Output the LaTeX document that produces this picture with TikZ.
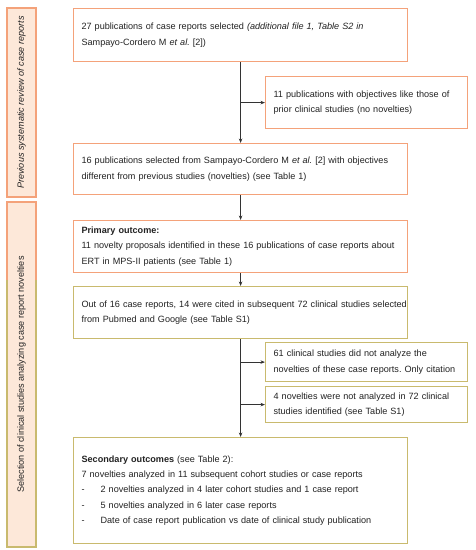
\documentclass[tikz,border=0pt]{standalone}
\usepackage{fontspec}
\setmainfont{Liberation Sans}
\usetikzlibrary{arrows.meta}
\definecolor{orB}{HTML}{F4A27A}
\definecolor{olB}{HTML}{C9BA6E}
\definecolor{peach}{HTML}{FDE8D9}
\definecolor{txt}{HTML}{222222}
\definecolor{arr}{HTML}{333333}
\frenchspacing
\begin{document}
\begin{tikzpicture}[x=1pt,y=-1pt,
  font=\fontsize{9.1}{15.2}\selectfont,
  base/.style={anchor=north west, inner xsep=8pt, inner ysep=0pt, line width=1.2pt, fill=white, text=txt, align=left},
  ob/.style={base, draw=orB},
  gb/.style={base, draw=olB},
  side/.style={anchor=center, rotate=90, inner sep=0pt, line width=1.2pt, fill=peach, text=txt, minimum height=29pt},
  arrowline/.style={draw=arr, line width=0.8pt, -{Stealth[length=4.5pt,width=3.5pt]}}]
\useasboundingbox (0,0) rectangle (476,550);
\fill[white] (0,0) rectangle (476,550);

% side boxes
\node[side, draw=orB, minimum width=189pt] (sA) at (21.5,102.5) {\itshape Previous systematic review of case reports};
\node[side, draw=orB, minimum width=345pt] (sB) at (21.5,374.5) {Selection of clinical studies analyzing case report novelties};
\draw[olB, line width=1.2pt] (7,280) -- (7,547) -- (36,547) -- (36,280);

% main boxes
\node[ob, text width=318pt, minimum height=53pt] (b1) at (73,8)
  {\makebox[318pt][s]{27 publications of case reports selected \textit{(additional file 1, Table S2 in}}\\
   Sampayo-Cordero M \textit{et al.} [2])};
\node[ob, text width=186pt, minimum height=52pt] (b2) at (265,76)
  {\makebox[186pt][s]{11 publications with objectives like those of}\\
   prior clinical studies (no novelties)};
\node[ob, text width=318pt, minimum height=51pt] (b3) at (73,143)
  {16 publications selected from Sampayo-Cordero M \textit{et al.} [2] with objectives\\
   different from previous studies (novelties) (see Table 1)};
\node[ob, text width=318pt, minimum height=52pt] (b4) at (73,220)
  {\textbf{Primary outcome:}\\
   \makebox[318pt][s]{11 novelty proposals identified in these 16 publications of case reports about}\\
   ERT in MPS-II patients (see Table 1)};
\node[gb, text width=318pt, minimum height=52pt] (b5) at (73,286)
  {\makebox[318pt][s]{Out of 16 case reports, 14 were cited in subsequent 72 clinical studies selected}\\
   from Pubmed and Google (see Table S1)};
\node[gb, text width=186pt, minimum height=39pt] (b6) at (265,342)
  {\makebox[186pt][s]{61 clinical studies did not analyze the}\\
   novelties of these case reports. Only citation};
\node[gb, text width=186pt, minimum height=36pt] (b7) at (265,386)
  {\makebox[186pt][s]{4 novelties were not analyzed in 72 clinical}\\
   studies identified (see Table S1)};
\node[gb, text width=318pt, minimum height=106pt] (b8) at (73,437)
  {\textbf{Secondary outcomes} (see Table 2):\\
   7 novelties analyzed in 11 subsequent cohort studies or case reports\\
   \makebox[19pt][l]{-}2 novelties analyzed in 4 later cohort studies and 1 case report\\
   \makebox[19pt][l]{-}5 novelties analyzed in 6 later case reports\\
   \makebox[19pt][l]{-}Date of case report publication vs date of clinical study publication};

% connectors
\draw[arrowline] (b1.south) -- (b3.north);
\draw[arrowline] (b1.south |- b2.west) -- (b2.west);
\draw[arrowline] (b3.south) -- (b4.north);
\draw[arrowline] (b4.south) -- (b5.north);
\draw[arrowline] (b5.south) -- (b8.north);
\draw[arrowline] (b5.south |- b6.west) -- (b6.west);
\draw[arrowline] (b5.south |- b7.west) -- (b7.west);
\end{tikzpicture}
\end{document}
